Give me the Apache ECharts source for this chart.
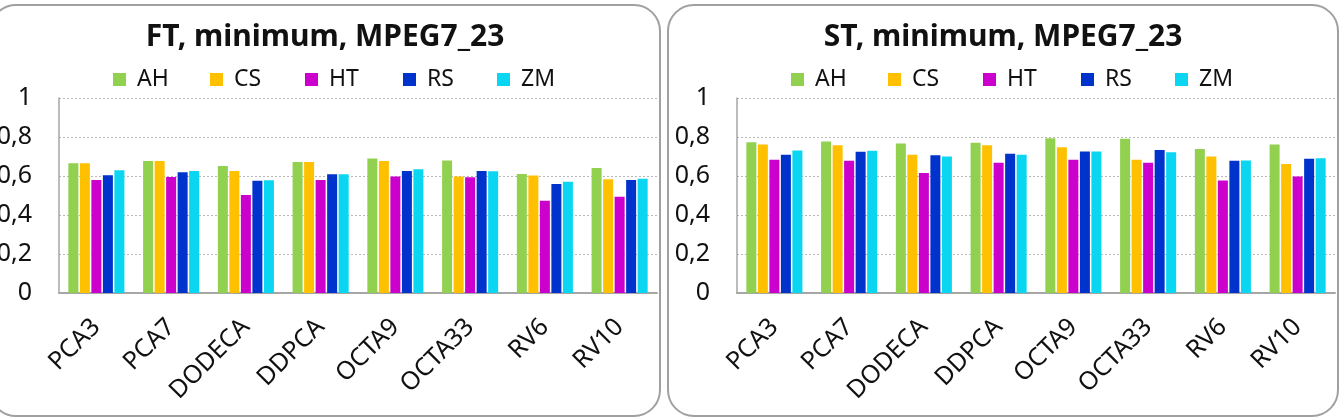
<!DOCTYPE html>
<html>
<head>
<meta charset="utf-8">
<script src="https://cdn.jsdelivr.net/npm/echarts@6/dist/echarts.min.js"></script>
<style>
  html, body { margin: 0; padding: 0; background: #fff; }
  #chart { width: 1342px; height: 420px; }
</style>
</head>
<body>
<div id="chart"></div>
<script>
// categories and values
const categories = ['PCA3', 'PCA7', 'DODECA', 'DDPCA', 'OCTA9', 'OCTA33', 'RV6', 'RV10'];
const seriesNames = ['AH', 'CS', 'HT', 'RS', 'ZM'];
const colors = ['#92D050', '#FFC000', '#CC00CC', '#0033CC', '#0AD6F2'];
const yTicks = [0, 0.2, 0.4, 0.6, 0.8, 1];

// FT, minimum
const ftAH = [0.665, 0.677, 0.651, 0.672, 0.690, 0.679, 0.610, 0.641];
const ftCS = [0.665, 0.677, 0.626, 0.672, 0.677, 0.597, 0.603, 0.583];
const ftHT = [0.580, 0.595, 0.503, 0.580, 0.598, 0.593, 0.473, 0.494];
const ftRS = [0.604, 0.619, 0.576, 0.609, 0.626, 0.626, 0.559, 0.580];
const ftZM = [0.629, 0.626, 0.578, 0.609, 0.634, 0.624, 0.571, 0.586];

// ST, minimum
const stAH = [0.773, 0.777, 0.767, 0.770, 0.794, 0.791, 0.739, 0.762];
const stCS = [0.762, 0.758, 0.709, 0.758, 0.748, 0.683, 0.700, 0.661];
const stHT = [0.683, 0.678, 0.616, 0.668, 0.683, 0.668, 0.577, 0.597];
const stRS = [0.709, 0.724, 0.707, 0.714, 0.726, 0.733, 0.678, 0.688];
const stZM = [0.731, 0.729, 0.700, 0.709, 0.726, 0.722, 0.680, 0.691];

const panels = [
  { title: 'FT, minimum, MPEG7_23', data: [ftAH, ftCS, ftHT, ftRS, ftZM], boxX: -11 },
  { title: 'ST, minimum, MPEG7_23', data: [stAH, stCS, stHT, stRS, stZM], boxX: 667 }
];

const FONT = 'Noto Sans';
const BOX_W = 670;
// legend slot offsets inside a panel box (Excel spaces them evenly)
const legendSlots = [124, 221, 316, 414, 508];

const chart = echarts.init(document.getElementById('chart'), null, { renderer: 'canvas' });

const grids = [], xAxes = [], yAxes = [], series = [], legends = [], graphics = [];

panels.forEach((p, i) => {
  const off = p.boxX;
  graphics.push({
    type: 'rect', left: off, top: 4, z: -10,
    shape: { width: BOX_W, height: 411, r: 26 },
    style: { fill: '#fff', stroke: '#a0a0a0', lineWidth: 2 }
  });
  graphics.push({
    type: 'text', x: off + BOX_W / 2 + 1, y: 37,
    style: {
      text: p.title, font: 'bold 30px "' + FONT + '"', fill: '#111',
      textAlign: 'center', textVerticalAlign: 'middle'
    }
  });
  grids.push({ left: off + 70, top: 98, width: 598, height: 195, outerBoundsMode: 'none' });
  xAxes.push({
    type: 'category', gridIndex: i, data: categories,
    axisLine: { lineStyle: { color: '#a6a6a6', width: 2 } },
    axisTick: { show: false },
    axisLabel: {
      interval: 0, rotate: 45, margin: 30,
      fontFamily: FONT, fontSize: 25, color: '#111'
    }
  });
  yAxes.push({
    type: 'value', gridIndex: i, min: yTicks[0], max: yTicks[yTicks.length - 1], interval: 0.2,
    axisLine: { show: true, lineStyle: { color: '#a6a6a6', width: 1.5 } },
    axisTick: { show: false },
    axisLabel: {
      margin: 27, fontFamily: FONT, fontSize: 25, color: '#111',
      formatter: v => String(Math.round(v * 10) / 10).replace('.', ',')
    },
    splitLine: { lineStyle: { color: '#b8b8b8', type: [2, 2], width: 1 } }
  });
  seriesNames.forEach((name, k) => {
    legends.push({
      left: off + legendSlots[k], top: 68, padding: 0, icon: 'rect', itemWidth: 13, itemHeight: 13,
      data: [name], selectedMode: false,
      textStyle: { fontFamily: FONT, fontSize: 23, color: '#111', padding: [0, 0, 0, 6] }
    });
  });
  p.data.forEach((vals, k) => {
    series.push({
      name: seriesNames[k], type: 'bar', xAxisIndex: i, yAxisIndex: i,
      data: vals, barGap: '15%', barCategoryGap: '25%',
      itemStyle: { color: colors[k] },
      silent: true
    });
  });
});

chart.setOption({
  animation: false,
  color: colors,
  graphic: graphics,
  legend: legends,
  grid: grids,
  xAxis: xAxes,
  yAxis: yAxes,
  series: series
});
</script>
</body>
</html>
